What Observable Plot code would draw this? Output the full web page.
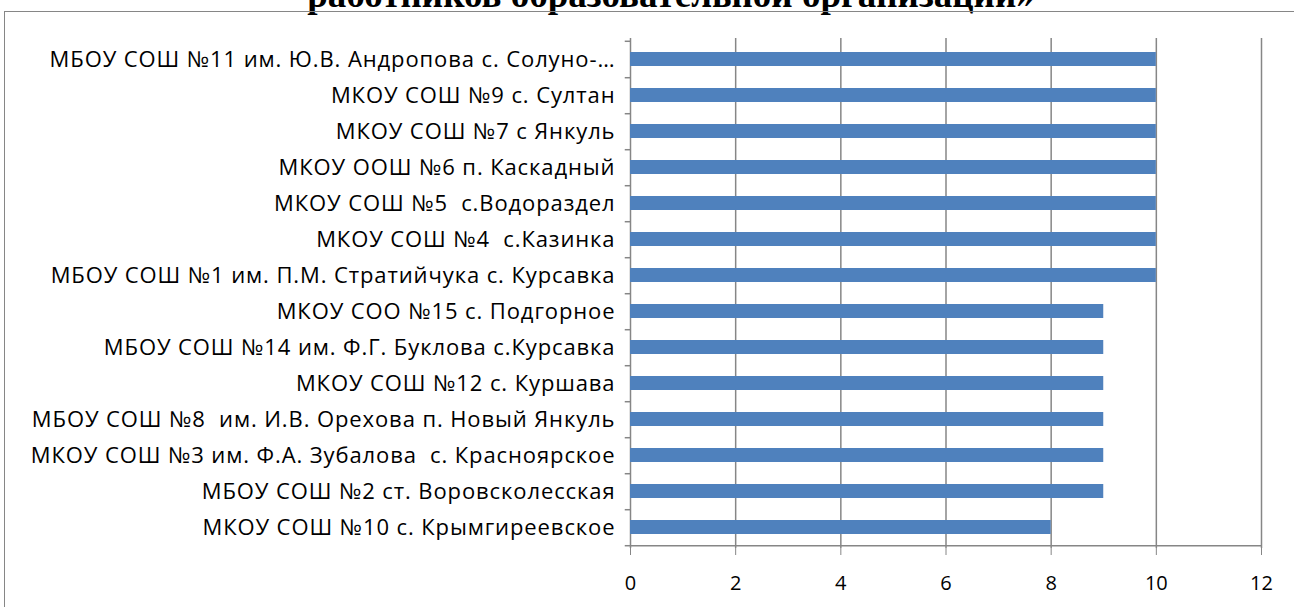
<!DOCTYPE html>
<html><head><meta charset="utf-8">
<script src="https://cdn.jsdelivr.net/npm/d3@7"></script>
<script src="https://cdn.jsdelivr.net/npm/@observablehq/plot@0.6"></script>
<style>
html,body{margin:0;padding:0;background:#fff;overflow:hidden;width:1294px;height:607px;}
#wrap{position:relative;width:1294px;height:607px;overflow:hidden;}
#title{position:absolute;left:0;width:1342px;top:-27px;line-height:37px;text-align:center;font:bold 37px "Liberation Serif","Times New Roman",serif;color:#000;white-space:nowrap;}
#frame{position:absolute;left:4px;top:11px;width:1400px;height:700px;border:1.5px solid #868686;box-sizing:border-box;}
#chart{position:absolute;left:0;top:0;}
</style></head>
<body><div id="wrap">
<div id="title">работников образовательной организации»</div>
<div id="frame"></div>
<div id="chart"></div>
</div>
<script>
const schools = [
  "МБОУ СОШ №11 им. Ю.В. Андропова с. Солуно-…",
  "МКОУ СОШ №9 с. Султан",
  "МКОУ СОШ №7 с Янкуль",
  "МКОУ ООШ №6 п. Каскадный",
  "МКОУ СОШ №5  с.Водораздел",
  "МКОУ СОШ №4  с.Казинка",
  "МБОУ СОШ №1 им. П.М. Стратийчука с. Курсавка",
  "МКОУ СОО №15 с. Подгорное",
  "МБОУ СОШ №14 им. Ф.Г. Буклова с.Курсавка",
  "МКОУ СОШ №12 с. Куршава",
  "МБОУ СОШ №8  им. И.В. Орехова п. Новый Янкуль",
  "МКОУ СОШ №3 им. Ф.А. Зубалова  с. Красноярское",
  "МБОУ СОШ №2 ст. Воровсколесская",
  "МКОУ СОШ №10 с. Крымгиреевское"
];
const values = [10, 10, 10, 10, 10, 10, 10, 9, 9, 9, 9, 9, 9, 8];
const xTicks = [0, 2, 4, 6, 8, 10, 12];

const data = schools.map((s, i) => ({school: s, value: values[i]}));
const W = 1294, H = 607, mT = 38, mB = 59, mL = 630, mR = 33;
const step = (H - mT - mB) / schools.length;
const grey = "#868686";
const pin = 1 - 14 / step;

const plot = Plot.plot({
  width: W, height: H,
  marginTop: mT, marginBottom: mB, marginLeft: mL, marginRight: mR,
  style: {fontFamily: "'Open Sans', sans-serif", background: "transparent", color: "#000"},
  x: {domain: [0, 12], ticks: xTicks},
  y: {domain: schools, paddingInner: pin, paddingOuter: pin / 2, align: 0.5},
  marks: [
    Plot.ruleX(xTicks, {x: d => d, stroke: grey, strokeWidth: 1.5}),
    Plot.barX(data, {x: "value", y: "school", fill: "#4F81BD"}),
    Plot.ruleY(schools, {y: d => d, x1: -0.1, x2: 0, dy: step / 2, stroke: grey, strokeWidth: 1.5}),
    Plot.ruleY([schools[0]], {y: d => d, x1: -0.1, x2: 0, dy: -step / 2, stroke: grey, strokeWidth: 1.5}),
    Plot.ruleY([schools[schools.length - 1]], {y: d => d, x1: 0, x2: 12, dy: step / 2, stroke: grey, strokeWidth: 1.5}),
    Plot.axisX({ticks: xTicks, tickSize: 7, tickPadding: 20, stroke: grey, fontSize: 20, label: null, tickFormat: d => String(d)}),
    Plot.axisY({tickSize: 0, tickPadding: 15, fontSize: 22, label: null})
  ]
});
plot.querySelectorAll("[aria-label='y-axis tick label'] text").forEach(t => t.setAttribute("letter-spacing", "0.9"));
document.getElementById("chart").appendChild(plot);
</script>
</body></html>
